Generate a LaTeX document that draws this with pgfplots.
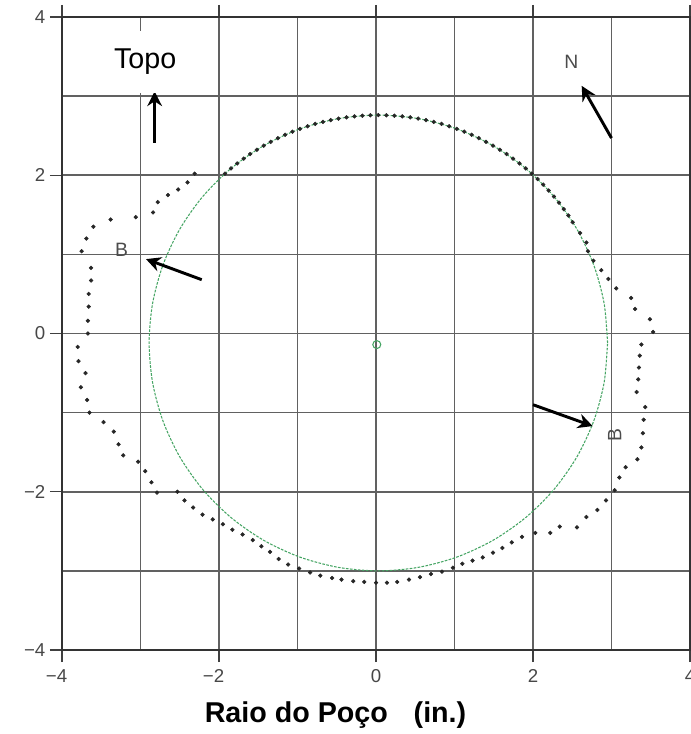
\documentclass[border=0pt]{standalone}
\usepackage{pgfplots}
\pgfplotsset{compat=1.18}
\usepackage{fontspec}
\setmainfont{Liberation Sans}
\usetikzlibrary{calc,arrows.meta}
\definecolor{circgreen}{RGB}{70,165,100}
\begin{document}
\begin{tikzpicture}
\begin{axis}[
 scale only axis, width=471pt, height=474.75pt,
 xmin=-4, xmax=4, ymin=-4, ymax=4,
 xtick={-4,-2,0,2,4}, ytick={-4,-2,0,2,4},
 minor xtick={-3,-1,1,3}, minor ytick={-3,-1,1,3},
 xticklabels={{\llap{−}4},{\llap{−}2},0,2,4},
 yticklabels={−4,−2,0,2,4},
 xmajorgrids, ymajorgrids, xminorgrids, yminorgrids,
 grid style={black!62, line width=1.15pt},
 every major grid/.style={black!62, line width=1.15pt},
 every minor grid/.style={black!62, line width=1.15pt},
 tick align=outside, major tick length=9pt, minor tick length=0pt,
 tick style={black!75, line width=0.9pt},
 axis line style={black!80, line width=1.4pt},
 ticklabel style={font=\fontsize{14}{15}\selectfont, text=black!72},
 xticklabel style={yshift=-2pt},
 xlabel={Raio do Poço\hspace{0.9em}(in.)},
 xlabel style={at={(axis description cs:0.4355,0)}, anchor=center, yshift=-48.75pt, font=\fontsize{21.5}{24}\selectfont\bfseries},
 clip=false,
]
% fitted circle
\addplot[smooth, draw=circgreen, line width=0.8pt, dash pattern=on 2pt off 1pt] coordinates {
(2.95,-0.12) (2.906,0.38) (2.774,0.865) (2.559,1.32) (2.267,1.731) (1.907,2.086) (1.49,2.374) (1.029,2.586) (0.537,2.716) (0.03,2.76)
(-0.477,2.716) (-0.969,2.586) (-1.43,2.374) (-1.847,2.086) (-2.207,1.731) (-2.499,1.32) (-2.714,0.865) (-2.846,0.38) (-2.89,-0.12)
(-2.846,-0.62) (-2.714,-1.105) (-2.499,-1.56) (-2.207,-1.971) (-1.847,-2.326) (-1.43,-2.614) (-0.969,-2.826) (-0.477,-2.956) (0.03,-3.0)
(0.537,-2.956) (1.029,-2.826) (1.49,-2.614) (1.907,-2.326) (2.267,-1.971) (2.559,-1.56) (2.774,-1.105) (2.906,-0.62) (2.95,-0.12)
};
\addplot[only marks, mark=o, mark size=3pt, circgreen, line width=0.8pt] coordinates {(0.01,-0.14)};
% measured caliper points
\addplot[only marks, mark=*, mark size=1.4pt, black!85] coordinates {
(2.506,1.406) (2.451,1.491) (2.392,1.573) (2.331,1.653) (2.267,1.731) (2.200,1.807) (2.130,1.881) (2.059,1.952) (1.984,2.020) (1.907,2.086)
(1.828,2.149) (1.746,2.210) (1.663,2.268) (1.577,2.322) (1.490,2.374) (1.401,2.423) (1.310,2.469) (1.218,2.511) (1.124,2.550) (1.029,2.586)
(0.932,2.619) (0.835,2.649) (0.736,2.674) (0.637,2.697) (0.537,2.716) (0.436,2.732) (0.335,2.744) (0.234,2.753) (0.132,2.758) (0.03,2.76)
(-0.072,2.758) (-0.174,2.753) (-0.275,2.744) (-0.376,2.732) (-0.477,2.716) (-0.577,2.697) (-0.676,2.674) (-0.775,2.649) (-0.872,2.619) (-0.969,2.586)
(-1.064,2.550) (-1.158,2.511) (-1.250,2.469) (-1.341,2.423) (-1.430,2.374) (-1.517,2.322) (-1.603,2.268) (-1.686,2.210) (-1.768,2.149) (-1.847,2.086) (-1.924,2.020)
(-2.31,2.02) (-2.40,1.91) (-2.52,1.82) (-2.65,1.75) (-2.78,1.66) (-2.84,1.53) (-3.06,1.47) (-3.38,1.44) (-3.60,1.35) (-3.69,1.20) (-3.75,1.04)
(-3.63,0.83) (-3.63,0.67) (-3.66,0.50) (-3.66,0.34) (-3.67,0.16) (-3.67,0.00) (-3.80,-0.17) (-3.79,-0.35) (-3.70,-0.50) (-3.76,-0.68) (-3.68,-0.84)
(-3.65,-1.00) (-3.47,-1.12) (-3.34,-1.24) (-3.28,-1.40) (-3.22,-1.54) (-3.03,-1.62) (-2.94,-1.74) (-2.86,-1.88) (-2.79,-2.01) (-2.53,-2.00)
(-2.44,-2.11) (-2.33,-2.20) (-2.21,-2.29) (-2.08,-2.35) (-1.95,-2.41) (-1.83,-2.48) (-1.70,-2.54) (-1.57,-2.61) (-1.46,-2.69) (-1.35,-2.76)
(-1.24,-2.85) (-1.12,-2.92)
(-0.98,-2.97) (-0.84,-3.02) (-0.71,-3.06) (-0.56,-3.09) (-0.44,-3.11) (-0.29,-3.13) (-0.15,-3.14) (0.0,-3.15) (0.14,-3.15) (0.27,-3.14)
(0.42,-3.11) (0.56,-3.08) (0.70,-3.04) (0.84,-3.01) (0.98,-2.96) (1.10,-2.91) (1.23,-2.87) (1.36,-2.83) (1.49,-2.77) (1.61,-2.71)
(1.73,-2.64) (1.86,-2.57) (2.03,-2.52) (2.22,-2.52) (2.34,-2.44) (2.56,-2.45) (2.68,-2.32) (2.82,-2.23) (2.93,-2.11) (3.04,-1.98)
(3.10,-1.82) (3.18,-1.69) (3.33,-1.59) (3.38,-1.44) (3.40,-1.26) (3.41,-1.09) (3.43,-0.93) (3.32,-0.74) (3.34,-0.58) (3.35,-0.43)
(3.36,-0.28) (3.38,-0.14) (3.53,0.02) (3.49,0.18) (3.30,0.31) (3.25,0.45) (3.06,0.57) (2.96,0.69) (2.87,0.80) (2.77,0.92)
(2.70,1.04) (2.68,1.15) (2.60,1.27)
};
% arrows
\addplot[black, line width=2.2pt, -{Stealth[length=11pt,width=11pt]}] coordinates {(-2.82,2.41) (-2.82,3.06)};
\addplot[black, line width=2.2pt, -{Stealth[length=11pt,width=11pt]}] coordinates {(3.00,2.47) (2.62,3.13)};
\addplot[black, line width=2.2pt, -{Stealth[length=11pt,width=11pt]}] coordinates {(-2.22,0.68) (-2.93,0.94)};
\addplot[black, line width=2.2pt, -{Stealth[length=11pt,width=11pt]}] coordinates {(2.00,-0.90) (2.76,-1.17)};
% labels
\node[fill=white, inner sep=0pt, minimum width=60pt, minimum height=46pt, font=\fontsize{21.5}{24}\selectfont] at (axis cs:-2.94,3.43) {Topo};
\node[text=black!70, font=\fontsize{14.5}{16}\selectfont] at (axis cs:2.49,3.43) {N};
\node[text=black!70, font=\fontsize{14.5}{16}\selectfont] at (axis cs:-3.24,1.06) {B};
\node[text=black!70, font=\fontsize{14.5}{16}\selectfont, rotate=90] at (axis cs:3.04,-1.28) {B};
\end{axis}
\pgfresetboundingbox
\path[use as bounding box] ($(current axis.south west)+(-46.5pt,-63pt)$) rectangle ($(current axis.north east)+(0.75pt,12.75pt)$);
\end{tikzpicture}
\end{document}
